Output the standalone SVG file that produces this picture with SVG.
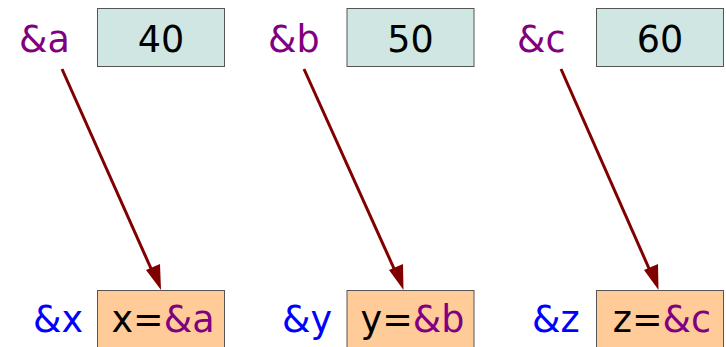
<svg xmlns="http://www.w3.org/2000/svg" width="726" height="347" viewBox="0 0 726 347">
<defs>
<style>
text{font-family:"DejaVu Sans",sans-serif;font-size:36.5px}
.val{fill:#cfe6e3;stroke:#555;stroke-width:1}
.ptr{fill:#ffcc99;stroke:#555;stroke-width:1}
.p{fill:#800080}.b{fill:#0000ff}.k{fill:#000}
.con line{stroke:#800000;stroke-width:3}
.con polygon{fill:#800000}
</style>
</defs>
<g id="a"><text x="19" y="52" class="p">&amp;a</text><rect x="97.5" y="8.5" width="127" height="58" class="val"/><text x="161" y="52" text-anchor="middle" class="k">40</text></g>
<g id="b"><text x="268" y="52" class="p">&amp;b</text><rect x="347" y="8.5" width="127" height="58" class="val"/><text x="410.5" y="52" text-anchor="middle" class="k">50</text></g>
<g id="c"><text x="517" y="52" class="p">&amp;c</text><rect x="596.5" y="8.5" width="127" height="58" class="val"/><text x="660" y="52" text-anchor="middle" class="k">60</text></g>
<g id="x"><text x="33" y="332" class="b">&amp;x</text><rect x="97.5" y="290.5" width="127" height="70" class="ptr"/><text x="163" y="332" text-anchor="middle"><tspan class="k">x=</tspan><tspan class="p">&amp;a</tspan></text></g>
<g id="y"><text x="282" y="332" class="b">&amp;y</text><rect x="347" y="290.5" width="127" height="70" class="ptr"/><text x="412.5" y="332" text-anchor="middle"><tspan class="k">y=</tspan><tspan class="p">&amp;b</tspan></text></g>
<g id="z"><text x="532" y="332" class="b">&amp;z</text><rect x="596.5" y="290.5" width="127" height="70" class="ptr"/><text x="662" y="332" text-anchor="middle"><tspan class="k">z=</tspan><tspan class="p">&amp;c</tspan></text></g>
<g class="con" id="connectors">
<line x1="62" y1="69" x2="153" y2="273"/><polygon points="161,290 146,270 160,264"/>
<line x1="304" y1="69" x2="396" y2="273"/><polygon points="403.5,290 389,270 403,264"/>
<line x1="561" y1="69" x2="651" y2="273"/><polygon points="658.5,290 644,270 658,264"/>
</g>
</svg>
